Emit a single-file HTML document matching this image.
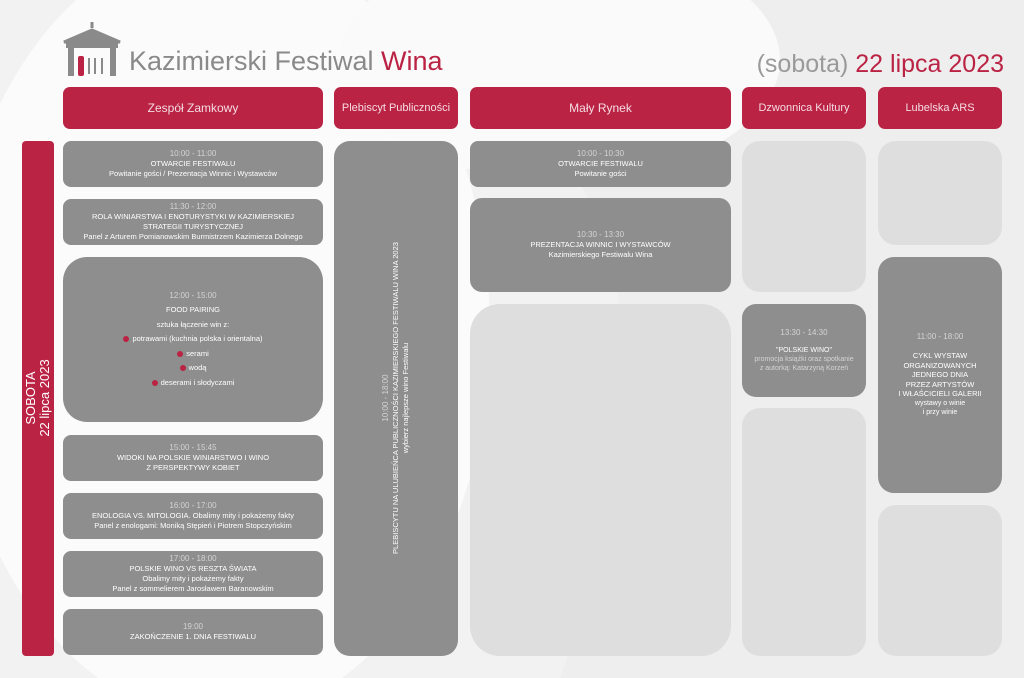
<!DOCTYPE html>
<html style="width:1024px;height:678px;overflow:hidden"><head><meta charset="utf-8"><style>
*{margin:0;padding:0;box-sizing:border-box}
body{width:1024px;height:678px;overflow:hidden;background:#f3f2f2;font-family:"Liberation Sans",sans-serif;position:relative}
.a{position:absolute}
.h{position:absolute;top:87px;height:42px;background:#bb2345;border-radius:7px;color:#f4dce2;font-size:12px;display:flex;align-items:center;justify-content:center}
.g{position:absolute;background:#8e8e8e;border-radius:8px;color:#fff;font-size:7.5px;line-height:10px;text-align:center;display:flex;flex-direction:column;justify-content:center}
.l{position:absolute;background:#dedede;border-radius:18px}
.t{color:#d4d4d4;font-size:8px}
.d{display:inline-block;width:6px;height:6px;border-radius:50%;background:#bb2345;margin-right:3px;vertical-align:-1px}
</style></head><body>
<svg class="a" style="left:0;top:0;display:block" width="1024" height="678">
<path d="M380 0 C 600 120 700 300 560 678 L1024 678 L1024 0Z" fill="#efeeee"/>
<ellipse cx="220" cy="330" rx="270" ry="390" fill="#fbfbfb"/>
<ellipse cx="560" cy="60" rx="220" ry="120" fill="#fafafa"/>
</svg>
<svg class="a" style="left:62px;top:22px" width="60" height="55">
<path d="M30 0 L30 6 M2 20 L30 8 L58 20 Z" stroke="#8a8a8a" stroke-width="3" fill="#8a8a8a"/>
<rect x="4" y="20" width="52" height="6" fill="#8a8a8a"/>
<rect x="6" y="26" width="6" height="28" fill="#8a8a8a"/><rect x="48" y="26" width="6" height="28" fill="#8a8a8a"/>
<rect x="16" y="34" width="6" height="20" rx="2" fill="#bb2345"/>
<path d="M27 36 v16 M33 36 v16 M40 36 v16" stroke="#8a8a8a" stroke-width="2"/>
</svg>
<div class="a" style="left:129px;top:46px;font-size:27px;color:#8a8a8a">Kazimierski Festiwal <span style="color:#bb2345">Wina</span></div>
<div class="a" style="right:20px;top:50px;font-size:25px;color:#9a9a9a">(sobota) <span style="color:#bb2345">22 lipca 2023</span></div>
<div class="h" style="left:63px;width:260px">Zespół Zamkowy</div>
<div class="h" style="left:334px;width:124px;font-size:11px">Plebiscyt Publiczności</div>
<div class="h" style="left:470px;width:261px">Mały Rynek</div>
<div class="h" style="left:742px;width:124px;font-size:11px">Dzwonnica Kultury</div>
<div class="h" style="left:878px;width:124px;font-size:11px">Lubelska ARS</div>
<div class="a" style="left:22px;top:141px;width:32px;height:515px;background:#bb2345;border-radius:4px"></div>
<div class="a" style="left:38px;top:398px;transform:translate(-50%,-50%) rotate(-90deg);color:#fff;font-size:13px;line-height:14px;text-align:center;white-space:nowrap">SOBOTA<br>22 lipca 2023</div>

<div class="g" style="left:63px;top:141px;width:260px;height:46px"><span class="t">10:00 - 11:00</span>OTWARCIE FESTIWALU<br>Powitanie gości / Prezentacja Winnic i Wystawców</div>
<div class="g" style="left:63px;top:199px;width:260px;height:46px"><span class="t">11:30 - 12:00</span>ROLA WINIARSTWA I ENOTURYSTYKI W KAZIMIERSKIEJ<br>STRATEGII TURYSTYCZNEJ<br>Panel z Arturem Pomianowskim Burmistrzem Kazimierza Dolnego</div>
<div class="g" style="left:63px;top:257px;width:260px;height:165px;border-radius:24px;line-height:14.5px"><span class="t">12:00 - 15:00</span>FOOD PAIRING<br>sztuka łączenie win z:<br><span><span class="d"></span>potrawami (kuchnia polska i orientalna)</span><span><span class="d"></span>serami</span><span><span class="d"></span>wodą</span><span><span class="d"></span>deserami i słodyczami</span></div>
<div class="g" style="left:63px;top:435px;width:260px;height:46px"><span class="t">15:00 - 15:45</span>WIDOKI NA POLSKIE WINIARSTWO I WINO<br>Z PERSPEKTYWY KOBIET</div>
<div class="g" style="left:63px;top:493px;width:260px;height:46px"><span class="t">16:00 - 17:00</span>ENOLOGIA VS. MITOLOGIA. Obalimy mity i pokażemy fakty<br>Panel z enologami: Moniką Stępień i Piotrem Stopczyńskim</div>
<div class="g" style="left:63px;top:551px;width:260px;height:46px"><span class="t">17:00 - 18:00</span>POLSKIE WINO VS RESZTA ŚWIATA<br>Obalimy mity i pokażemy fakty<br>Panel z sommelierem Jarosławem Baranowskim</div>
<div class="g" style="left:63px;top:609px;width:260px;height:46px"><span class="t">19:00</span>ZAKOŃCZENIE 1. DNIA FESTIWALU</div>

<div class="g" style="left:334px;top:141px;width:124px;height:515px;border-radius:16px"></div>
<div class="a" style="left:396px;top:398px;transform:translate(-50%,-50%) rotate(-90deg);color:#fff;font-size:7.5px;line-height:10px;text-align:center;white-space:nowrap"><span class="t">10:00 - 18:00</span><br>PLEBISCYTU NA ULUBIEŃCA PUBLICZNOŚCI KAZIMIERSKIEGO FESTIWALU WINA 2023<br>wybierz najlepsze wino Festiwalu</div>

<div class="g" style="left:470px;top:141px;width:261px;height:46px"><span class="t">10:00 - 10:30</span>OTWARCIE FESTIWALU<br>Powitanie gości</div>
<div class="g" style="left:470px;top:198px;width:261px;height:94px;border-radius:12px"><span class="t">10:30 - 13:30</span>PREZENTACJA WINNIC I WYSTAWCÓW<br>Kazimierskiego Festiwalu Wina</div>
<div class="l" style="left:470px;top:304px;width:261px;height:352px;border-radius:30px"></div>

<div class="l" style="left:742px;top:141px;width:124px;height:151px"></div>
<div class="g" style="left:742px;top:304px;width:124px;height:93px;border-radius:14px;font-size:7px;line-height:9px"><span class="t">13:30 - 14:30</span><br>"POLSKIE WINO"<br><span style="color:#d4d4d4">promocja książki oraz spotkanie<br>z autorką: Katarzyną Korzeń</span></div>
<div class="l" style="left:742px;top:408px;width:124px;height:248px"></div>

<div class="l" style="left:878px;top:141px;width:124px;height:104px"></div>
<div class="g" style="left:878px;top:257px;width:124px;height:236px;border-radius:16px;line-height:9.5px"><span class="t">11:00 - 18:00</span><br>CYKL WYSTAW<br>ORGANIZOWANYCH<br>JEDNEGO DNIA<br>PRZEZ ARTYSTÓW<br>I WŁAŚCICIELI GALERII<br><span style="font-size:7px">wystawy o winie<br>i przy winie</span></div>
<div class="l" style="left:878px;top:505px;width:124px;height:151px"></div>
</body></html>
